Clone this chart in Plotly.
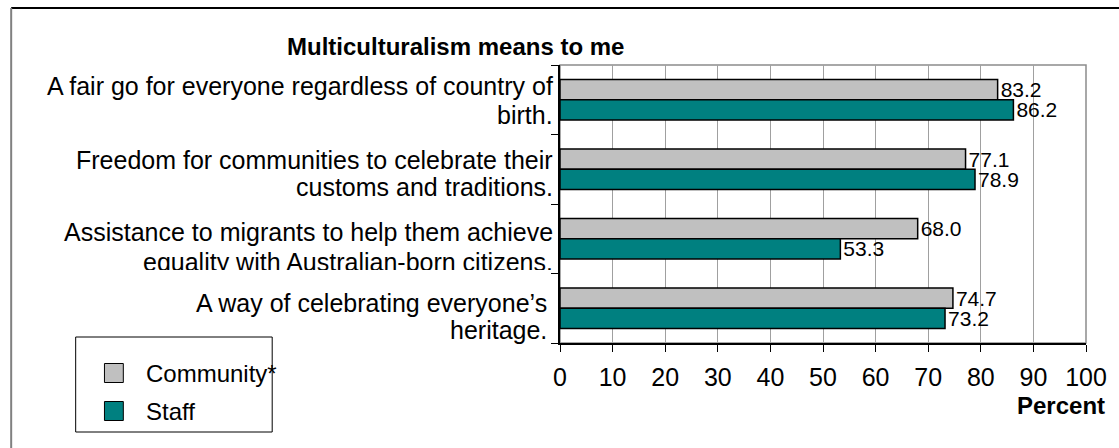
import plotly.graph_objects as go

# Survey responses: "Multiculturalism means to me"
categories = [
    ["A fair go for everyone regardless of country of", "birth."],
    ["Freedom for communities to celebrate their", "customs and traditions."],
    ["Assistance to migrants to help them achieve", "equality with Australian-born citizens."],
    ["A way of celebrating everyone\u2019s", "heritage."],
]
community = [83.2, 77.1, 68.0, 74.7]
staff = [86.2, 78.9, 53.3, 73.2]
series_names = ["Community*", "Staff"]
series_colors = ["#C0C0C0", "#008080"]
x_ticks = [0, 10, 20, 30, 40, 50, 60, 70, 80, 90, 100]

W, H = 1119, 448
PL, PR, PT, PB = 560, 1090, 65, 343  # plot area in pixels
FONT = "Liberation Sans, Arial, sans-serif"


def px(x):
    return (x - PL) / (PR - PL)


def py(y):
    return (PB - y) / (PB - PT)


ypos = list(range(len(categories)))
fig = go.Figure()
for name, vals, col in zip(series_names, [community, staff], series_colors):
    fig.add_trace(go.Bar(
        y=ypos, x=vals, orientation="h", name=name,
        marker=dict(color=col, line=dict(color="#000000", width=1.5)),
        text=[f"{v:.1f}" for v in vals], textposition="outside",
        textfont=dict(family=FONT, size=21, color="#000000"),
        cliponaxis=False, showlegend=False,
    ))

fig.update_layout(
    width=W, height=H,
    margin=dict(l=PL, r=W - PR, t=PT, b=H - PB),
    paper_bgcolor="white", plot_bgcolor="white",
    barmode="group", bargap=0.42, bargroupgap=0.0,
    uniformtext=dict(minsize=21, mode="show"),
    font=dict(family=FONT, color="#000000"),
    xaxis=dict(
        range=[0, 100], tickvals=x_ticks, ticktext=[str(t) for t in x_ticks],
        showgrid=True, gridcolor="#A0A0A0", gridwidth=1,
        showline=True, linecolor="#000000", linewidth=1.5,
        ticks="outside", ticklen=7, tickcolor="#000000",
        tickfont=dict(family=FONT, size=25), ticklabelstandoff=4,
        zeroline=False,
    ),
    yaxis=dict(
        range=[len(categories) - 0.5, -0.5],
        tickvals=[i - 0.5 for i in range(len(categories) + 1)],
        showticklabels=False, showgrid=False, zeroline=False,
        showline=True, linecolor="#000000", linewidth=1.5,
        ticks="outside", ticklen=7, tickcolor="#000000",
    ),
)

shapes = [
    # plot area frame (top/right)
    dict(type="rect", xref="paper", yref="paper", x0=0, x1=1, y0=0, y1=1,
         line=dict(color="#8C8C8C", width=1.5), layer="below"),
    # outer chart frame
    dict(type="line", xref="paper", yref="paper", x0=px(7), x1=px(W + 5),
         y0=py(8), y1=py(8), line=dict(color="#000000", width=2)),
    dict(type="line", xref="paper", yref="paper", x0=px(7), x1=px(7),
         y0=py(8), y1=py(H + 5), line=dict(color="#808080", width=2)),
    # legend box
    dict(type="rect", xref="paper", yref="paper", x0=px(72), x1=px(270),
         y0=py(432), y1=py(337), line=dict(color="#000000", width=1),
         fillcolor="white"),
]
annotations = []

# legend entries
for i, (name, col) in enumerate(zip(series_names, series_colors)):
    yc = 373 + 38 * i
    shapes.append(dict(type="rect", xref="paper", yref="paper",
                       x0=px(101), x1=px(120), y0=py(yc + 9.5), y1=py(yc - 9.5),
                       fillcolor=col, line=dict(color="#000000", width=1)))
    annotations.append(dict(text=name, xref="paper", yref="paper",
                            x=px(141), y=py(yc), xanchor="left", yanchor="middle",
                            showarrow=False, font=dict(size=24)))

# category labels, one annotation per text line, right aligned at the axis
line_y = [[86, 115], [160, 187], [232, 259], [303, 330]]
right_x = [555, 555, 555, 549]
for lines, ys, rx in zip(categories, line_y, right_x):
    for txt, yc in zip(lines, ys):
        annotations.append(dict(text=txt, xref="paper", yref="paper",
                                x=px(rx), y=py(yc), xanchor="right",
                                yanchor="middle", align="right",
                                showarrow=False, font=dict(size=25)))

# the lower line of the third label is cut off at the bottom
annotations[-3].update(yanchor="top", y=py(246), height=22, valign="top")

annotations += [
    dict(text="<b>Multiculturalism means to me</b>", xref="paper", yref="paper",
         x=px(455), y=py(47), xanchor="center", yanchor="middle",
         showarrow=False, font=dict(size=24)),
    dict(text="<b>Percent</b>", xref="paper", yref="paper",
         x=px(1111), y=py(405), xanchor="right", yanchor="middle",
         showarrow=False, font=dict(size=24)),
]
fig.update_layout(shapes=shapes, annotations=annotations)
fig.write_html("out.html")
